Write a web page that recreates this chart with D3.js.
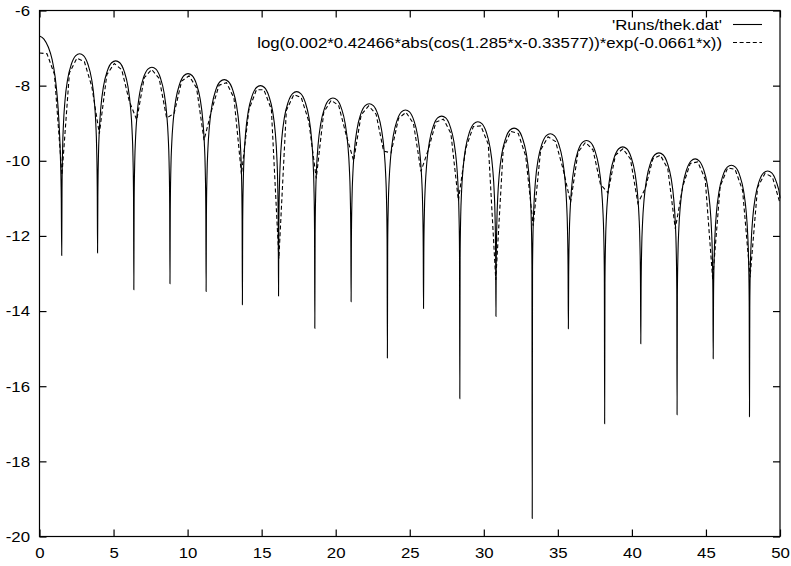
<!DOCTYPE html>
<html>
<head>
<meta charset="utf-8">
<script src="https://cdn.jsdelivr.net/npm/d3@7"></script>
<style>
body { margin: 0; background: #fff; }
text { font-family: "Liberation Sans", Arial, Helvetica, sans-serif; font-size: 14px; fill: #000; }
</style>
</head>
<body>
<script>
// axis ticks
var xTicks = [0, 5, 10, 15, 20, 25, 30, 35, 40, 45, 50];
var yTicks = [-20, -18, -16, -14, -12, -10, -8, -6];

var legendLabels = ["'Runs/thek.dat'",
  "log(0.002*0.42466*abs(cos(1.285*x-0.33577))*exp(-0.0661*x))"];

// solid curve ('Runs/thek.dat')
// first half arch, x = 0 .. first dip
var headX = [0, 0.3, 0.6, 0.85, 1.05, 1.2, 1.32, 1.42, 1.47];
var headY = [-6.68, -6.76, -6.98, -7.3, -7.75, -8.3, -9.0, -10.0, -11.0];
// the sharp dips
var dipX = [1.50, 3.92, 6.37, 8.81, 11.25, 13.70, 16.14, 18.59, 21.04, 23.49,
            25.93, 28.38, 30.82, 33.27, 35.71, 38.16, 40.60, 43.05, 45.49, 47.94];
var dipY = [-12.52, -12.45, -13.43, -13.27, -13.48, -13.83, -13.60, -14.46, -13.75, -15.25,
            -13.93, -16.33, -14.14, -19.52, -14.47, -17.00, -14.87, -16.76, -15.27, -16.81];
// top of each arch after a dip
var peakY = [-7.15, -7.34, -7.51, -7.68, -7.84, -8.00, -8.16, -8.33, -8.48, -8.65,
             -8.81, -8.96, -9.13, -9.28, -9.46, -9.63, -9.79, -9.95, -10.12, -10.27];
// shape of one arch side: distance from the dip, height below the top
var archOffset = [0.02, 0.06, 0.12, 0.22, 0.4, 0.65, 0.95];
var archDrop = [-3.63, -2.53, -1.85, -1.25, -0.68, -0.28, -0.05];
var tailY = -11.0; // value at x = 50

// dashed fit curve, 100 samples over [0, 50]
var fitY = [-7.13, -7.15, -7.70, -10.38, -7.66, -7.27, -7.36, -8.03, -9.28, -7.71,
  -7.41, -7.58, -8.41, -8.91, -7.79, -7.57, -7.81, -8.86, -8.74, -7.88,
  -7.74, -8.06, -9.45, -8.66, -7.99, -7.92, -8.33, -10.36, -8.64, -8.11,
  -8.11, -8.63, -12.60, -8.66, -8.24, -8.32, -8.95, -10.47, -8.71, -8.39,
  -8.53, -9.31, -10.00, -8.78, -8.54, -8.76, -9.74, -9.79, -8.87, -8.71,
  -9.01, -10.28, -9.69, -8.97, -8.89, -9.27, -11.06, -9.66, -9.09, -9.07,
  -9.56, -13.17, -9.67, -9.22, -9.27, -9.87, -11.73, -9.71, -9.36, -9.49,
  -10.22, -11.11, -9.77, -9.51, -9.71, -10.63, -10.85, -9.85, -9.68, -9.95,
  -11.13, -10.73, -9.95, -9.85, -10.21, -11.81, -10.68, -10.07, -10.03, -10.49,
  -13.15, -10.68, -10.19, -10.23, -10.79, -13.10, -10.71, -10.33, -10.44, -11.13];

var W = 791, H = 566;
var pLeft = 39.5, pRight = 780, pTop = 10.5, pBottom = 536.5;

var svg = d3.select("body").append("svg")
    .attr("width", W)
    .attr("height", H);

var x = d3.scaleLinear().domain([0, 50]).range([pLeft, pRight]);
var y = d3.scaleLinear().domain([-20, -6]).range([pBottom, pTop]);

// build solid point list
var solid = headX.map(function(v, i) { return [v, headY[i]]; });
dipX.forEach(function(d, k) {
  solid.push([d, dipY[k]]);
  var next = k < dipX.length - 1 ? dipX[k + 1] : null;
  var half = next ? (next - d) / 2 : (dipX[k] - dipX[k - 1]) / 2;
  archOffset.forEach(function(o, j) { solid.push([d + o, peakY[k] + archDrop[j]]); });
  solid.push([d + half, peakY[k]]);
  var end = next ? next : d + 2 * half;
  for (var j = archOffset.length - 1; j >= 0; j--) {
    var xx = end - archOffset[j];
    if (xx < 50) solid.push([xx, peakY[k] + archDrop[j]]);
  }
  if (!next) solid.push([50, tailY]);
});

var fit = fitY.map(function(v, i) { return [i * 50 / 99, v]; });

var line = d3.line()
    .x(function(d) { return x(d[0]); })
    .y(function(d) { return y(d[1]); });

// plain hyphen minus, as in the original
var fmt = function(d) { return String(d); };

// axes with inward ticks, mirrored on top and right
var gx = svg.append("g").attr("transform", "translate(0," + pBottom + ")")
    .call(d3.axisBottom(x).tickValues(xTicks).tickSize(-7).tickFormat(fmt));
gx.selectAll("text")
    .attr("y", 21.5).attr("dy", 0)
    .attr("transform", "scale(1.2,1)");

var gy = svg.append("g").attr("transform", "translate(" + pLeft + ",0)")
    .call(d3.axisLeft(y).tickValues(yTicks).tickSize(-7).tickFormat(fmt));
gy.selectAll("text")
    .attr("x", 0).attr("dy", "0.35em")
    .attr("transform", "translate(-9.5,0) scale(1.2,1)");

svg.append("g").attr("transform", "translate(0," + pTop + ")")
    .call(d3.axisTop(x).tickValues(xTicks).tickSize(-7).tickFormat(""));
svg.append("g").attr("transform", "translate(" + pRight + ",0)")
    .call(d3.axisRight(y).tickValues(yTicks).tickSize(-7).tickFormat(""));

svg.selectAll(".domain").remove();
svg.selectAll(".tick line").attr("stroke", "#000").attr("stroke-width", 1.2);
svg.selectAll(".tick text").attr("fill", "#000");
svg.selectAll("g").attr("font-family", null).attr("font-size", null);

svg.append("rect")
    .attr("x", pLeft).attr("y", pTop)
    .attr("width", pRight - pLeft).attr("height", pBottom - pTop)
    .attr("fill", "none").attr("stroke", "#000").attr("stroke-width", 1.2);

// curves
svg.append("path")
    .datum(solid)
    .attr("fill", "none").attr("stroke", "#000").attr("stroke-width", 1.1)
    .attr("d", line.curve(d3.curveMonotoneX));

svg.append("path")
    .datum(fit)
    .attr("fill", "none").attr("stroke", "#000").attr("stroke-width", 1.1)
    .attr("stroke-dasharray", "4,2.6")
    .attr("d", line.curve(d3.curveLinear));

// legend
var legend = svg.append("g");
legendLabels.forEach(function(t, i) {
  var ly = 24.5 + i * 18;
  legend.append("text")
      .attr("text-anchor", "end")
      .attr("transform", "translate(722," + (ly + 5) + ") scale(1.2,1)")
      .text(t);
  legend.append("line")
      .attr("x1", 733).attr("x2", 762)
      .attr("y1", ly).attr("y2", ly)
      .attr("stroke", "#000").attr("stroke-width", 1.1)
      .attr("stroke-dasharray", i ? "4,2.6" : null);
});
</script>
</body>
</html>
